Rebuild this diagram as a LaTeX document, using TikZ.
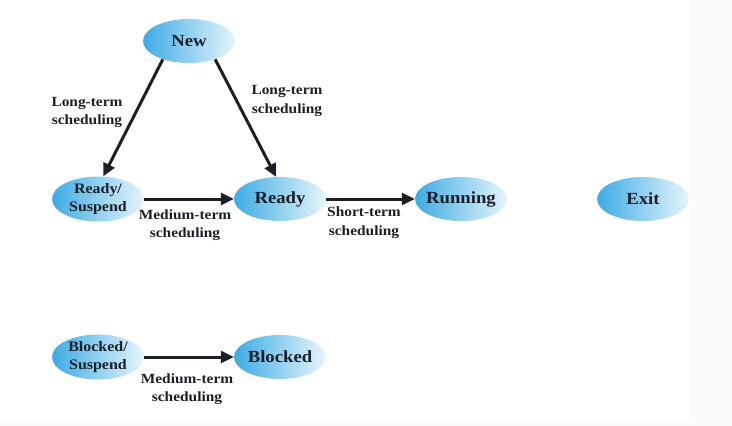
\documentclass[tikz,border=0pt]{standalone}
\usepackage{fontspec}
\setmainfont[FakeStretch=1.1]{Liberation Serif}
\usetikzlibrary{arrows.meta,shapes.geometric}
\definecolor{ellA}{RGB}{62,172,228}
\definecolor{ellM}{RGB}{140,206,240}
\definecolor{ellB}{RGB}{230,245,252}
\definecolor{txt}{RGB}{28,30,40}
\begin{document}
\begin{tikzpicture}[x=1pt,y=-1pt,
  state/.style={ellipse, minimum width=92pt, minimum height=44pt, inner xsep=-6pt, inner ysep=-2pt,
    left color=ellA, middle color=ellM, right color=ellB, draw=none,
    font=\fontsize{17}{18}\selectfont\bfseries, text=txt, align=center},
  statetwo/.style={state, minimum height=45pt, font=\fontsize{14.5}{17.5}\selectfont\bfseries},
  lbl/.style={font=\fontsize{14}{18.5}\selectfont\bfseries, text=txt, align=center, inner sep=0pt},
  arr/.style={line width=3pt, draw=txt, -{Triangle[length=13pt,width=12pt]}}
]
\fill[black!2] (0,0) rectangle (732,426);
\fill[white] (0,0) rectangle (690,420);
\useasboundingbox (0,0) rectangle (732,426);

\node[state] (New) at (189,41) {New};
\node[statetwo] (RS) at (98,199) {Ready/\\Suspend};
\node[state] (Ready) at (280,199) {Ready};
\node[state] (Run) at (461,199) {Running};
\node[state] (Exit) at (643,199) {Exit};
\node[statetwo] (BS) at (98,357) {Blocked/\\Suspend};
\node[state] (Blk) at (280,357) {Blocked};

\draw[arr] (New.215) -- (RS.77);
\draw[arr] (New.325) -- (Ready.100);
\draw[arr] (RS) -- (Ready);
\draw[arr] (Ready) -- (Run);
\draw[arr] (BS) -- (Blk);

\node[lbl] (l1) at (87,112.5) {Long-term\\scheduling};
\node[lbl] (l2) at (287,101) {Long-term\\scheduling};
\node[lbl] (l3) at (185,225) {Medium-term\\scheduling};
\node[lbl] (l4) at (364,222.5) {Short-term\\scheduling};
\node[lbl] (l5) at (187,389) {Medium-term\\scheduling};
\end{tikzpicture}
\end{document}
